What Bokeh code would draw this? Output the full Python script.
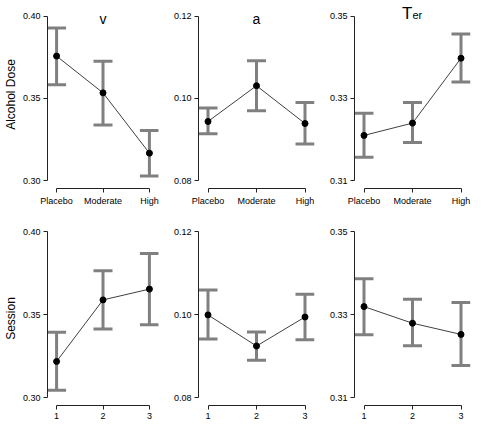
from bokeh.plotting import figure
from bokeh.layouts import gridplot
from bokeh.models import (ColumnDataSource, Whisker, TeeHead, Label, Range1d,
                          FixedTicker, PrintfTickFormatter)
from bokeh.embed import file_html
from bokeh.resources import INLINE

# ---- data ----
alc_labels = ["Placebo", "Moderate", "High"]
ses_labels = ["1", "2", "3"]
xpos = [1, 2, 3]

v_alc_mean = [0.3758, 0.3534, 0.3167]
v_alc_lo = [0.3583, 0.3339, 0.3028]
v_alc_hi = [0.3929, 0.3726, 0.3305]

a_alc_mean = [0.0944, 0.1031, 0.0939]
a_alc_lo = [0.0914, 0.0970, 0.0889]
a_alc_hi = [0.0977, 0.1092, 0.0990]

ter_alc_mean = [0.3210, 0.3240, 0.3398]
ter_alc_lo = [0.3157, 0.3193, 0.3340]
ter_alc_hi = [0.3264, 0.3290, 0.3457]

v_ses_mean = [0.3217, 0.3588, 0.3653]
v_ses_lo = [0.3044, 0.3412, 0.3438]
v_ses_hi = [0.3393, 0.3763, 0.3868]

a_ses_mean = [0.0999, 0.0924, 0.0994]
a_ses_lo = [0.0941, 0.0890, 0.0939]
a_ses_hi = [0.1059, 0.0958, 0.1049]

ter_ses_mean = [0.3319, 0.3279, 0.3252]
ter_ses_lo = [0.3251, 0.3225, 0.3177]
ter_ses_hi = [0.3386, 0.3337, 0.3329]

v_ticks = [0.30, 0.35, 0.40]
a_ticks = [0.08, 0.10, 0.12]
ter_ticks = [0.31, 0.33, 0.35]

FONT = "Liberation Sans"
BAR = "#808080"
AX = "#222222"

col_w = [164, 156, 152]
col_left = [42, 34, 34]
col_right = [6, 6, 2]
row_h = [208, 215]
row_top = [0, 23]
row_bottom = [18, 18]
row_headroom = [16, 0]     # px of frame above the top tick
SPAN_PX = 166
GAP_PX = 8
XPAD = 9.5 / 48.5


def panel(row, col, mean, lo, hi, ticks, labels, title=None, ylabel=None, sub=None):
    ymin, ymax = ticks[0], ticks[-1]
    rng = ymax - ymin
    ystart = ymin - rng * GAP_PX / SPAN_PX
    yend = ymax + rng * row_headroom[row] / SPAN_PX
    p = figure(width=col_w[col], height=row_h[row], output_backend="svg",
               toolbar_location=None,
               x_range=Range1d(1 - XPAD, 3 + XPAD), y_range=Range1d(ystart, yend),
               min_border_left=col_left[col], min_border_right=col_right[col],
               min_border_top=row_top[row], min_border_bottom=row_bottom[row])
    p.outline_line_color = None
    p.grid.visible = False
    p.background_fill_color = "white"
    p.border_fill_color = "white"

    src = ColumnDataSource(dict(x=xpos, m=mean, lo=lo, hi=hi))
    w = Whisker(base="x", upper="hi", lower="lo", source=src, line_color=BAR,
                line_width=3,
                upper_head=TeeHead(size=19, line_color=BAR, line_width=3),
                lower_head=TeeHead(size=19, line_color=BAR, line_width=3))
    p.add_layout(w)
    p.line("x", "m", source=src, line_color="#404040", line_width=1)
    p.scatter("x", "m", source=src, size=6, fill_color="black", line_color="black")

    xa = p.xaxis[0]
    xa.ticker = FixedTicker(ticks=xpos)
    xa.major_label_overrides = {i: s for i, s in zip(xpos, labels)}
    xa.bounds = (1, 3)
    xa.minor_tick_line_color = None
    xa.major_tick_in = 0
    xa.major_tick_out = 4
    xa.major_label_standoff = 3
    xa.axis_line_color = AX
    xa.major_tick_line_color = AX
    xa.major_label_text_font = FONT
    xa.major_label_text_font_size = "9px"
    xa.major_label_text_color = "black"

    ya = p.yaxis[0]
    ya.ticker = FixedTicker(ticks=ticks)
    ya.formatter = PrintfTickFormatter(format="%.2f")
    ya.bounds = (ymin, ymax)
    ya.minor_tick_line_color = None
    ya.major_tick_in = 0
    ya.major_tick_out = 4
    ya.major_label_standoff = 3
    ya.axis_line_color = AX
    ya.major_tick_line_color = AX
    ya.major_label_text_font = FONT
    ya.major_label_text_font_size = "9px"
    ya.major_label_text_color = "black"
    if ylabel:
        ya.axis_label = ylabel
        ya.axis_label_text_font = FONT
        ya.axis_label_text_font_size = "12px"
        ya.axis_label_text_font_style = "normal"
        ya.axis_label_text_color = "black"
        ya.axis_label_standoff = 2

    if title:
        if sub:
            p.add_layout(Label(x=2, y=ymax, text=title, text_align="right",
                               text_baseline="alphabetic", y_offset=3,
                               text_font=FONT, text_font_size="17px",
                               text_color="black"))
            p.add_layout(Label(x=2, y=ymax, text=sub, text_align="left",
                               text_baseline="alphabetic", y_offset=1.5,
                               text_font=FONT, text_font_size="11px",
                               text_color="black"))
        else:
            p.add_layout(Label(x=2, y=ymax, text=title, text_align="center",
                               text_baseline="alphabetic", y_offset=-3,
                               text_font=FONT, text_font_size="14px",
                               text_color="black"))
    return p


p1 = panel(0, 0, v_alc_mean, v_alc_lo, v_alc_hi, v_ticks, alc_labels, "v", "Alcohol Dose")
p2 = panel(0, 1, a_alc_mean, a_alc_lo, a_alc_hi, a_ticks, alc_labels, "a")
p3 = panel(0, 2, ter_alc_mean, ter_alc_lo, ter_alc_hi, ter_ticks, alc_labels, "T", sub="er")
p4 = panel(1, 0, v_ses_mean, v_ses_lo, v_ses_hi, v_ticks, ses_labels, ylabel="Session")
p5 = panel(1, 1, a_ses_mean, a_ses_lo, a_ses_hi, a_ticks, ses_labels)
p6 = panel(1, 2, ter_ses_mean, ter_ses_lo, ter_ses_hi, ter_ticks, ses_labels)

grid = gridplot([[p1, p2, p3], [p4, p5, p6]], toolbar_location=None)

open("out.html", "w").write(file_html(grid, INLINE))
